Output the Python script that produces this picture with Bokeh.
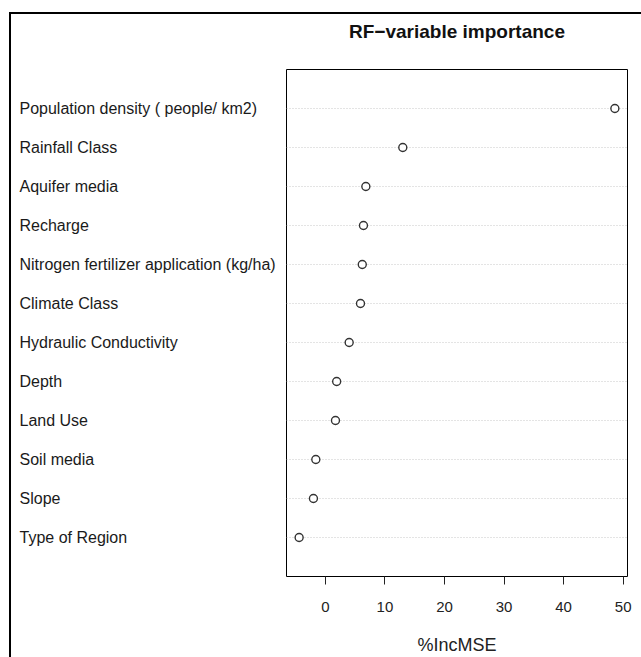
from bokeh.plotting import figure
from bokeh.layouts import row
from bokeh.models import Range1d, FixedTicker, ColumnDataSource, Title
from bokeh.core.properties import value
from bokeh.embed import file_html
from bokeh.resources import INLINE

# data (top row first as shown)
variables = [
    "Population density ( people/ km2)",
    "Rainfall Class",
    "Aquifer media",
    "Recharge",
    "Nitrogen fertilizer application (kg/ha)",
    "Climate Class",
    "Hydraulic Conductivity",
    "Depth",
    "Land Use",
    "Soil media",
    "Slope",
    "Type of Region",
]
inc_mse = [48.6, 13.0, 6.8, 6.4, 6.2, 5.9, 4.0, 1.9, 1.7, -1.6, -2.0, -4.4]
x_ticks = [0, 10, 20, 30, 40, 50]
title_text = "RF\u2212variable importance"
x_label = "%IncMSE"

n = len(variables)
rows = list(range(n, 0, -1))

lo, hi = min(inc_mse), max(inc_mse)
pad = 0.04 * (hi - lo)
xmin, xmax = lo - pad, hi + pad

FONT = "Liberation Sans"
H = 643
LEFT_W = 275
MAIN_W = 355
B_TOP, B_BOT, B_RIGHT = 55, 81, 14

# ---------------- main chart ----------------
p = figure(width=MAIN_W, height=H, output_backend="svg", toolbar_location=None,
           x_range=Range1d(xmin, xmax), y_range=Range1d(0, n + 1),
           min_border_left=0, min_border_right=B_RIGHT, min_border_top=B_TOP,
           min_border_bottom=B_BOT)
p.outline_line_color = "black"
p.outline_line_width = 1
p.xgrid.visible = False
p.ygrid.visible = False
p.yaxis.visible = False
p.background_fill_color = "white"
p.border_fill_color = "white"

# spacer panel next to the frame, then the real title above it
p.add_layout(Title(text=" ", text_font=FONT, text_font_size="19px",
                   text_font_style="bold", standoff=4.5), "above")
p.add_layout(Title(text=title_text, align="center", text_font=FONT,
                   text_font_size="19px", text_font_style="bold",
                   text_color="#111111", standoff=0), "above")

src = ColumnDataSource(dict(y=rows, x=inc_mse, x0=[xmin] * n, x1=[xmax] * n))
p.segment(x0="x0", x1="x1", y0="y", y1="y", source=src,
          line_color="#c8c8c8", line_dash="1 2", line_width=1)
p.scatter(x="x", y="y", source=src, marker="circle", size=8,
          fill_color="white", line_color="#333333", line_width=1.4)

ax = p.xaxis[0]
ax.ticker = FixedTicker(ticks=x_ticks)
ax.minor_tick_line_color = None
ax.major_tick_in = 0
ax.major_tick_out = 8
ax.major_tick_line_color = "#222222"
ax.axis_line_color = None
ax.major_label_text_font = FONT
ax.major_label_text_font_size = "15px"
ax.major_label_text_color = "#222222"
ax.major_label_standoff = 17
ax.axis_label = x_label
ax.axis_label_text_font = FONT
ax.axis_label_text_font_size = "18px"
ax.axis_label_text_font_style = "normal"
ax.axis_label_text_color = "#222222"
ax.axis_label_standoff = 20

# ---------------- row labels (frame is aligned with the main frame) ----------------
lab = figure(width=LEFT_W, height=H, output_backend="svg", toolbar_location=None,
             x_range=Range1d(0, LEFT_W), y_range=Range1d(0, n + 1),
             min_border=0)
lab.axis.visible = False
lab.grid.visible = False
lab.outline_line_color = None
lab.background_fill_color = "white"
lab.border_fill_color = "white"
lab.text(x=[8] * n, y=rows, text=variables, text_font=value(FONT),
         text_font_size="16px", text_color="#1a1a1a",
         text_align="left", text_baseline="middle")

layout = row(lab, p)
layout.styles = {"margin-left": "9px", "margin-top": "12px",
                 "border-left": "2px solid black", "border-top": "2px solid black"}

open("out.html", "w").write(file_html(layout, INLINE))
